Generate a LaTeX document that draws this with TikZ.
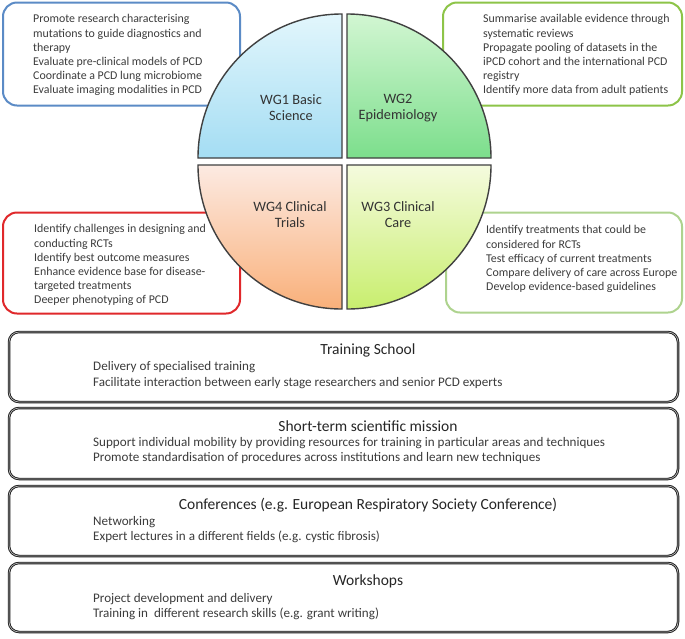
\documentclass[tikz,border=0pt]{standalone}
\usepackage{fontspec}
\setmainfont{Carlito}
\definecolor{wgblue}{HTML}{5B8BC6}
\definecolor{wggreen}{HTML}{8DC448}
\definecolor{wgred}{HTML}{E0282B}
\definecolor{wgpale}{HTML}{AED38E}
\definecolor{txt}{HTML}{3C3C3C}
\definecolor{q1top}{HTML}{E2F6FC}
\definecolor{q1bot}{HTML}{A4DDF3}
\definecolor{q2top}{HTML}{D2F6D2}
\definecolor{q2bot}{HTML}{7CDE8C}
\definecolor{q4top}{HTML}{FCEAE2}
\definecolor{q4bot}{HTML}{F9B07A}
\definecolor{q3top}{HTML}{F5FBDE}
\definecolor{q3bot}{HTML}{C8EE6E}
\begin{document}
\begin{tikzpicture}[x=1pt,y=-1pt,
  wgbox/.style={draw,rounded corners=14pt,line width=2pt,fill=white},
  bigbox/.style={draw=black!90,rounded corners=10pt,line width=0.9pt,double=gray!55,double distance=0.7pt,fill=white,minimum width=669pt},
  quad/.style={draw=black!75,line width=1.4pt},
  body/.style={anchor=base west,align=left,inner sep=0pt,font=\fontsize{11.9}{14.2}\selectfont,text=txt},
  lbody/.style={anchor=base west,align=left,inner sep=0pt,font=\fontsize{13.1}{15.3}\selectfont,text=txt},
  wglabel/.style={align=center,inner sep=0pt,font=\fontsize{14.3}{16}\selectfont,text=black!80},
  title/.style={anchor=base,inner sep=0pt,font=\fontsize{15.5}{17}\selectfont,text=black!85}
]
\useasboundingbox (0,0) rectangle (685,638);
\fill[white] (0,0) rectangle (685,638);

% working group boxes
\node[wgbox,draw=wgblue,minimum width=237pt,minimum height=103pt] (b1) at (121.5,54) {};
\node[wgbox,draw=wggreen,minimum width=239pt,minimum height=103pt] (b2) at (562.5,54) {};
\node[wgbox,draw=wgred,minimum width=237pt,minimum height=101pt] (b4) at (121.5,263) {};
\node[wgbox,draw=wgpale,minimum width=236pt,minimum height=100pt] (b3) at (564,262.5) {};

% (anchor = baseline of the last line)
\node[body] (t1) at (33,93.8) {Promote research characterising\\mutations to guide diagnostics and\\therapy\\Evaluate pre-clinical models of PCD\\Coordinate a PCD lung microbiome\\Evaluate imaging modalities in PCD};
\node[body] (t2) at (483,93.8) {Summarise available evidence through\\systematic reviews\\Propagate pooling of datasets in the\\iPCD cohort and the international PCD\\registry\\Identify more data from adult patients};
\node[body] (t4) at (34,303.8) {Identify challenges in designing and\\conducting RCTs\\Identify best outcome measures\\Enhance evidence base for disease-\\targeted treatments\\Deeper phenotyping of PCD};
\node[body] (t3) at (486,290.6) {Identify treatments that could be\\considered for RCTs\\Test efficacy of current treatments\\Compare delivery of care across Europe\\Develop evidence-based guidelines};

% quadrants
\path[quad,top color=q1top,bottom color=q1bot] (342,158) -- ++(-144,0) arc[start angle=180,end angle=90,radius=144pt] -- cycle;
\path[quad,top color=q2top,bottom color=q2bot] (347,158) -- ++(0,-144) arc[start angle=90,end angle=0,radius=144pt] -- cycle;
\path[quad,top color=q4top,bottom color=q4bot] (342,165) -- ++(-144,0) arc[start angle=180,end angle=270,radius=144pt] -- cycle;
\path[quad,top color=q3top,bottom color=q3bot] (347,165) -- ++(144,0) arc[start angle=0,end angle=-90,radius=144pt] -- cycle;

\node[wglabel] (w1) at (291,108) {WG1 Basic\\Science};
\node[wglabel] (w2) at (398,108) {WG2\\Epidemiology};
\node[wglabel] (w4) at (290,215) {WG4 Clinical\\Trials};
\node[wglabel] (w3) at (398,215) {WG3 Clinical\\Care};

% activity boxes
\node[bigbox,minimum height=70pt] (ts) at (343.5,367) {};
\node[bigbox,minimum height=71pt] (st) at (343.5,443.5) {};
\node[bigbox,minimum height=70pt] (cf) at (343.5,521) {};
\node[bigbox,minimum height=69pt] (ws) at (343.5,597.5) {};

\node[title] (tsT) at (368,354.6) {Training School};
\node[lbody] (tsB) at (93,386) {Delivery of specialised training\\Facilitate interaction between early stage researchers and senior PCD experts};
\node[title] (stT) at (368,431.6) {Short-term scientific mission};
\node[lbody] (stB) at (93,461.3) {Support individual mobility by providing resources for training in particular areas and techniques\\Promote standardisation of procedures across institutions and learn new techniques};
\node[title] (cfT) at (368,509.6) {Conferences (e.g. European Respiratory Society Conference)};
\node[lbody] (cfB) at (93,540.3) {Networking\\Expert lectures in a different fields (e.g. cystic fibrosis)};
\node[title] (wsT) at (368,585.6) {Workshops};
\node[lbody] (wsB) at (93,617.3) {Project development and delivery\\Training in\ \ different research skills (e.g. grant writing)};
\end{tikzpicture}
\end{document}
